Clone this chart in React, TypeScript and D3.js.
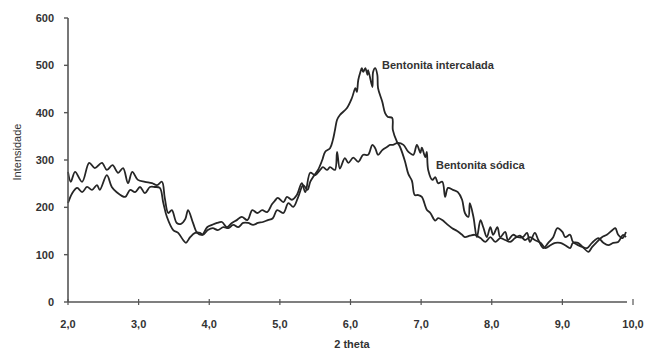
import React, { useEffect, useRef } from 'react';
import * as d3 from 'd3';

// [2 theta, intensidade]
const sodica: [number, number][] = [
  [2.0, 275], [2.04, 254], [2.1, 275], [2.2, 254], [2.3, 294], [2.38, 283], [2.48, 294], [2.55, 279],
  [2.63, 289], [2.71, 273], [2.78, 283], [2.85, 251], [2.91, 275], [2.99, 258], [3.09, 254], [3.19, 251],
  [3.26, 247], [3.33, 254], [3.37, 220], [3.42, 188], [3.47, 194], [3.54, 167], [3.6, 165], [3.66, 175],
  [3.7, 194], [3.77, 167], [3.83, 146], [3.9, 142], [3.97, 158], [4.04, 163], [4.11, 167], [4.18, 169],
  [4.25, 158], [4.32, 167], [4.39, 173], [4.46, 180], [4.54, 173], [4.61, 194], [4.68, 188], [4.75, 194],
  [4.82, 190], [4.89, 207], [4.93, 214], [4.97, 220], [5.05, 211], [5.1, 222], [5.17, 216], [5.24, 226],
  [5.31, 251], [5.36, 232], [5.43, 273], [5.5, 268], [5.57, 279], [5.61, 285], [5.67, 279], [5.71, 285],
  [5.78, 279], [5.81, 317], [5.85, 282], [5.92, 304], [5.97, 294], [6.04, 305], [6.11, 296], [6.18, 311],
  [6.25, 311], [6.31, 332], [6.35, 325], [6.39, 311], [6.45, 321], [6.52, 328], [6.56, 332], [6.6, 332],
  [6.67, 336], [6.75, 332], [6.82, 317], [6.89, 311], [6.94, 332], [6.99, 315], [7.01, 326], [7.06, 306],
  [7.08, 317], [7.1, 279], [7.16, 258], [7.2, 264], [7.24, 251], [7.3, 254], [7.34, 222], [7.38, 241],
  [7.45, 237], [7.52, 232], [7.58, 216], [7.62, 188], [7.67, 180], [7.69, 209], [7.74, 180], [7.79, 137],
  [7.84, 173], [7.88, 158], [7.93, 137], [7.98, 158], [8.02, 142], [8.08, 158], [8.12, 137], [8.19, 148],
  [8.23, 131], [8.3, 142], [8.37, 137], [8.44, 137], [8.5, 146], [8.54, 127], [8.61, 146], [8.66, 131],
  [8.73, 114], [8.8, 125], [8.87, 137], [8.93, 156], [9.0, 148], [9.04, 137], [9.11, 142], [9.15, 127],
  [9.22, 125], [9.29, 116], [9.37, 106], [9.42, 116], [9.49, 127], [9.56, 137], [9.63, 142], [9.71, 152],
  [9.75, 156], [9.79, 142], [9.85, 135], [9.9, 148],
];

const intercalada: [number, number][] = [
  [2.0, 209], [2.06, 230], [2.13, 241], [2.2, 232], [2.27, 243], [2.34, 237], [2.41, 247], [2.45, 237],
  [2.55, 268], [2.62, 243], [2.69, 232], [2.81, 222], [2.88, 237], [2.95, 232], [3.02, 243], [3.09, 230],
  [3.16, 243], [3.23, 243], [3.3, 241], [3.35, 209], [3.4, 180], [3.49, 152], [3.56, 146], [3.63, 131],
  [3.67, 125], [3.73, 137], [3.8, 146], [3.87, 146], [3.91, 142], [3.98, 152], [4.05, 156], [4.12, 152],
  [4.2, 158], [4.27, 156], [4.34, 163], [4.41, 158], [4.48, 167], [4.55, 167], [4.62, 163], [4.69, 167],
  [4.76, 169], [4.83, 173], [4.9, 177], [4.96, 194], [5.05, 188], [5.12, 209], [5.19, 201], [5.26, 222],
  [5.33, 247], [5.39, 237], [5.43, 254], [5.47, 264], [5.54, 279], [5.6, 300], [5.64, 317], [5.71, 325],
  [5.75, 342], [5.78, 363], [5.81, 385], [5.85, 395], [5.95, 410], [6.02, 431], [6.07, 452], [6.09, 444],
  [6.11, 469], [6.14, 486], [6.16, 494], [6.18, 486], [6.21, 494], [6.24, 480], [6.25, 490], [6.31, 454],
  [6.32, 486], [6.35, 494], [6.38, 480], [6.39, 452], [6.45, 423], [6.49, 399], [6.53, 391], [6.59, 389],
  [6.6, 363], [6.66, 338], [6.7, 328], [6.77, 298], [6.82, 270], [6.87, 256], [6.91, 226], [6.96, 226],
  [7.01, 222], [7.08, 195], [7.13, 188], [7.2, 172], [7.24, 177], [7.3, 173], [7.37, 164], [7.44, 156],
  [7.51, 150], [7.58, 142], [7.62, 137], [7.69, 140], [7.76, 142], [7.84, 135], [7.91, 127], [7.98, 137],
  [8.05, 127], [8.12, 135], [8.19, 131], [8.26, 127], [8.33, 135], [8.4, 140], [8.47, 131], [8.54, 137],
  [8.61, 131], [8.69, 125], [8.76, 114], [8.83, 120], [8.9, 125], [8.97, 125], [9.04, 120], [9.11, 114],
  [9.15, 125], [9.22, 120], [9.29, 116], [9.35, 114], [9.42, 125], [9.51, 135], [9.58, 125], [9.65, 120],
  [9.72, 125], [9.79, 127], [9.86, 142], [9.9, 137],
];

const xTicks = [2, 3, 4, 5, 6, 7, 8, 9, 10];
const yTicks = [0, 100, 200, 300, 400, 500, 600];

const W = 646;
const H = 349;
const FONT = 'Arial, "Liberation Sans", sans-serif';

const App: React.FC = () => {
  const svgRef = useRef<SVGSVGElement>(null);

  useEffect(() => {
    if (!svgRef.current) return;
    const svg = d3.select(svgRef.current);
    svg.selectAll('*').remove();

    const x = d3.scaleLinear().domain([2, 10]).range([68, 633]);
    const y = d3.scaleLinear().domain([0, 600]).range([302, 18]);
    const axisColor = '#555';
    const textColor = '#333';

    // curves, smoothed like the original trace
    const line = d3
      .line<[number, number]>()
      .x(d => x(d[0]))
      .y(d => y(d[1]))
      .curve(d3.curveCatmullRom.alpha(0.5));

    [sodica, intercalada].forEach(series => {
      svg
        .append('path')
        .datum(series)
        .attr('d', line)
        .attr('fill', 'none')
        .attr('stroke', '#262626')
        .attr('stroke-width', 1.8)
        .attr('stroke-linejoin', 'round');
    });

    // y axis
    svg
      .append('line')
      .attr('x1', x(2))
      .attr('x2', x(2))
      .attr('y1', y(600))
      .attr('y2', y(0))
      .attr('stroke', axisColor)
      .attr('stroke-width', 1.6);

    svg
      .selectAll('.y-tick')
      .data(yTicks)
      .enter()
      .append('line')
      .attr('x1', x(2) - 4)
      .attr('x2', x(2))
      .attr('y1', d => y(d))
      .attr('y2', d => y(d))
      .attr('stroke', axisColor)
      .attr('stroke-width', 1.4);

    svg
      .selectAll('.y-label')
      .data(yTicks)
      .enter()
      .append('text')
      .attr('x', x(2) - 14)
      .attr('y', d => y(d))
      .attr('dy', '0.35em')
      .attr('text-anchor', 'end')
      .style('font-family', FONT)
      .style('font-size', '11px')
      .style('font-weight', 'bold')
      .style('fill', textColor)
      .text(d => String(d));

    // x axis
    svg
      .append('line')
      .attr('x1', x(2))
      .attr('x2', 627)
      .attr('y1', y(0))
      .attr('y2', y(0))
      .attr('stroke', axisColor)
      .attr('stroke-width', 1.6);

    svg
      .selectAll('.x-tick')
      .data(xTicks)
      .enter()
      .append('line')
      .attr('x1', d => x(d))
      .attr('x2', d => x(d))
      .attr('y1', y(0) - 3)
      .attr('y2', y(0) + 3)
      .attr('stroke', axisColor)
      .attr('stroke-width', 1.2);

    svg
      .selectAll('.x-label')
      .data(xTicks)
      .enter()
      .append('text')
      .attr('x', d => x(d))
      .attr('y', 324)
      .attr('dy', '0.35em')
      .attr('text-anchor', 'middle')
      .style('font-family', FONT)
      .style('font-size', '11px')
      .style('font-weight', 'bold')
      .style('fill', textColor)
      .text(d => d.toFixed(1).replace('.', ','));

    // axis titles
    svg
      .append('text')
      .attr('x', 352)
      .attr('y', 344)
      .attr('dy', '0.35em')
      .attr('text-anchor', 'middle')
      .style('font-family', FONT)
      .style('font-size', '11px')
      .style('font-weight', 'bold')
      .style('fill', textColor)
      .text('2 theta');

    svg
      .append('text')
      .attr('transform', 'translate(17,152) rotate(-90)')
      .attr('dy', '0.35em')
      .attr('text-anchor', 'middle')
      .style('font-family', FONT)
      .style('font-size', '11px')
      .style('fill', textColor)
      .text('Intensidade');

    // series labels
    svg
      .append('text')
      .attr('x', 382)
      .attr('y', 65)
      .attr('dy', '0.35em')
      .style('font-family', FONT)
      .style('font-size', '11px')
      .style('font-weight', 'bold')
      .style('fill', textColor)
      .text('Bentonita intercalada');

    svg
      .append('text')
      .attr('x', 436)
      .attr('y', 165)
      .attr('dy', '0.35em')
      .style('font-family', FONT)
      .style('font-size', '11px')
      .style('font-weight', 'bold')
      .style('fill', textColor)
      .text('Bentonita sódica');
  }, []);

  return (
    <svg
      ref={svgRef}
      width={W}
      height={H}
      style={{ position: 'absolute', left: 0, top: 0, background: '#fff' }}
    />
  );
};

export default App;
